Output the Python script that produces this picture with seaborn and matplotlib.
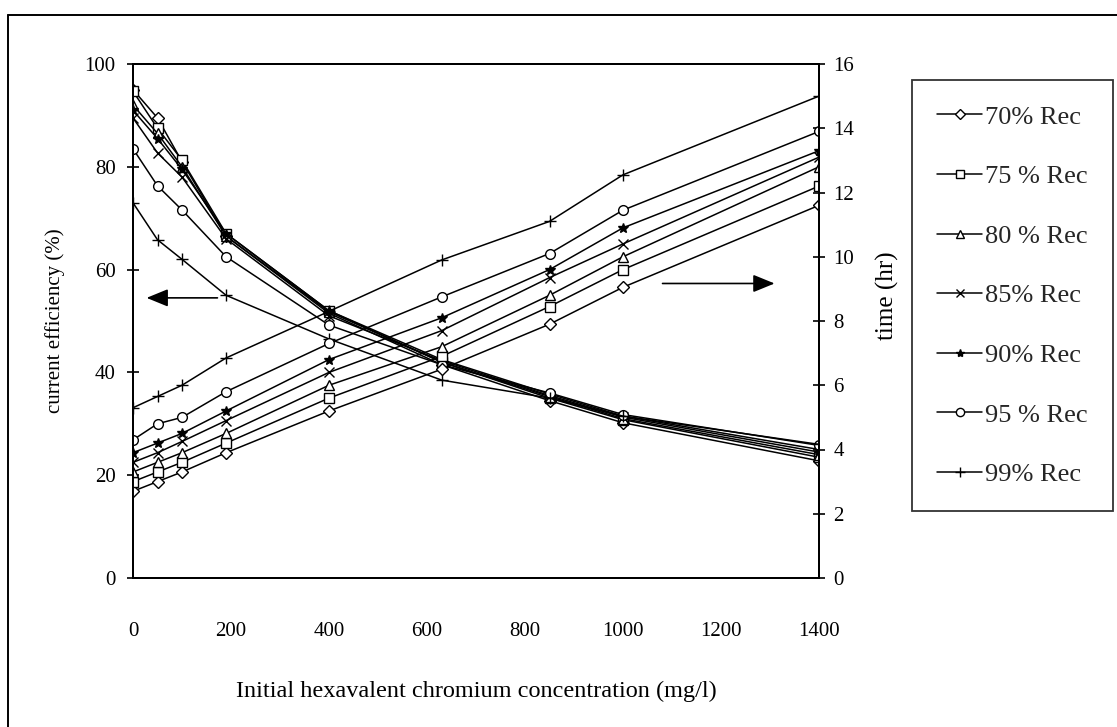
import matplotlib
matplotlib.use("Agg")
import matplotlib.pyplot as plt
from matplotlib.lines import Line2D
import seaborn as sns
import pandas as pd

# ---------------- data ----------------
conc = [0, 50, 100, 190, 400, 630, 850, 1000, 1400]
series = ["70% Rec", "75 % Rec", "80 % Rec", "85% Rec", "90% Rec", "95 % Rec", "99% Rec"]

eff_70 = [95.0, 89.5, 81.0, 66.5, 51.5, 41.5, 34.5, 30.2, 22.8]
eff_75 = [94.7, 87.5, 81.3, 67.0, 52.0, 42.0, 35.0, 30.8, 23.5]
eff_80 = [92.0, 86.5, 80.0, 66.5, 51.8, 42.0, 35.3, 31.0, 24.0]
eff_85 = [89.5, 82.7, 78.0, 66.0, 51.0, 42.3, 35.5, 31.3, 24.5]
eff_90 = [91.0, 85.5, 79.5, 67.0, 52.0, 42.5, 35.8, 31.5, 25.0]
eff_95 = [83.5, 76.3, 71.6, 62.5, 49.2, 41.5, 36.0, 31.8, 25.8]
eff_99 = [73.0, 65.8, 62.0, 55.0, 46.5, 38.5, 35.0, 31.5, 26.0]

time_70 = [2.7, 3.0, 3.3, 3.9, 5.2, 6.5, 7.9, 9.05, 11.6]
time_75 = [3.0, 3.3, 3.6, 4.2, 5.6, 6.9, 8.45, 9.6, 12.2]
time_80 = [3.3, 3.6, 3.9, 4.5, 6.0, 7.2, 8.8, 10.0, 12.8]
time_85 = [3.6, 3.9, 4.25, 4.9, 6.4, 7.7, 9.35, 10.4, 13.1]
time_90 = [3.9, 4.2, 4.5, 5.2, 6.8, 8.1, 9.6, 10.9, 13.3]
time_95 = [4.3, 4.8, 5.0, 5.8, 7.3, 8.75, 10.1, 11.45, 13.9]
time_99 = [5.3, 5.65, 6.0, 6.85, 8.3, 9.9, 11.1, 12.55, 15.0]

eff_all = [eff_70, eff_75, eff_80, eff_85, eff_90, eff_95, eff_99]
time_all = [time_70, time_75, time_80, time_85, time_90, time_95, time_99]

x_ticks = [0, 200, 400, 600, 800, 1000, 1200, 1400]
eff_ticks = [0, 20, 40, 60, 80, 100]
time_ticks = [0, 2, 4, 6, 8, 10, 12, 14, 16]

# ---------------- style ----------------
sns.set_theme(style="white")
plt.rcParams["font.family"] = ["Liberation Serif", "DejaVu Serif"]
plt.rcParams["mathtext.default"] = "regular"

markers = ["D", "s", "^", "x", "*", "o", "+"]
msizes = [6, 7, 7, 7, 7, 7, 9]

W, H = 1117, 727
fig = plt.figure(figsize=(W / 100, H / 100), dpi=100)
fig.patch.set_facecolor("white")

x0, x1, y0, y1 = 133, 819, 64, 578
ax = fig.add_axes([x0 / W, 1 - y1 / H, (x1 - x0) / W, (y1 - y0) / H])
ax2 = ax.twinx()

def style_kw(i):
    m = markers[i]
    kw = dict(color="black", linewidth=1.1, marker=m, markersize=msizes[i],
              markeredgecolor="black", markeredgewidth=1.0)
    if m in ("D", "s", "^", "o"):
        kw["markerfacecolor"] = "white"
    else:
        kw["markerfacecolor"] = "black"
    return kw

for i, name in enumerate(series):
    df_e = pd.DataFrame({"conc": conc, "val": eff_all[i]})
    sns.lineplot(data=df_e, x="conc", y="val", ax=ax, legend=False, **style_kw(i))
    df_t = pd.DataFrame({"conc": conc, "val": time_all[i]})
    sns.lineplot(data=df_t, x="conc", y="val", ax=ax2, legend=False, **style_kw(i))

ax.set_xlim(0, 1400)
ax.set_ylim(0, 100)
ax2.set_ylim(0, 16)
ax.set_xticks(x_ticks)
ax.set_yticks(eff_ticks)
ax2.set_yticks(time_ticks)

fs = 15
for a in (ax, ax2):
    for s in a.spines.values():
        s.set_color("black")
        s.set_linewidth(1.4)
ax.tick_params(axis="x", direction="out", length=7, width=1.2, pad=25, labelsize=fs, colors="black")
ax.tick_params(axis="y", direction="inout", length=9, width=1.2, pad=8, labelsize=fs, colors="black", left=True)
ax2.tick_params(axis="y", direction="inout", length=9, width=1.2, pad=6, labelsize=fs, colors="black", right=True)

ax.set_xlabel("Initial hexavalent chromium concentration (mg/l)", fontsize=17.5, color="black", labelpad=28)
ax.set_ylabel("current efficiency (%)", fontsize=fs, color="black", labelpad=14)
ax2.set_ylabel("time (hr)", fontsize=18, color="black", labelpad=12)
ax2.yaxis.set_label_coords(1.083, 0.55)
ax.grid(False)
ax2.grid(False)

# arrows
ax.annotate("", xy=(22, 54.5), xytext=(178, 54.5),
            arrowprops=dict(arrowstyle="-|>,head_length=1.1,head_width=0.45", color="black", lw=1.2))
ax.annotate("", xy=(1315, 57.3), xytext=(1075, 57.3),
            arrowprops=dict(arrowstyle="-|>,head_length=1.1,head_width=0.45", color="black", lw=1.2))

# legend
handles = [Line2D([], [], **style_kw(i)) for i in range(len(series))]
for h, i in zip(handles, range(len(series))):
    h.set_markersize(msizes[i] * 0.85)
leg = fig.legend(handles, series, loc="upper left", bbox_to_anchor=(912 / W, 1 - 80 / H),
                 frameon=True, fancybox=False, shadow=False, edgecolor="black",
                 fontsize=19, handlelength=1.7, handletextpad=0.12, labelspacing=1.37,
                 borderpad=0.95, borderaxespad=0.0)
leg.get_frame().set_linewidth(1.3)

# outer frame
fig.add_artist(Line2D([8 / W, 8 / W], [0, 1 - 15 / H], transform=fig.transFigure, color="black", lw=1.4))
fig.add_artist(Line2D([8 / W, 1], [1 - 15 / H, 1 - 15 / H], transform=fig.transFigure, color="black", lw=1.4))

fig.savefig("out.png", dpi=100, facecolor="white")
